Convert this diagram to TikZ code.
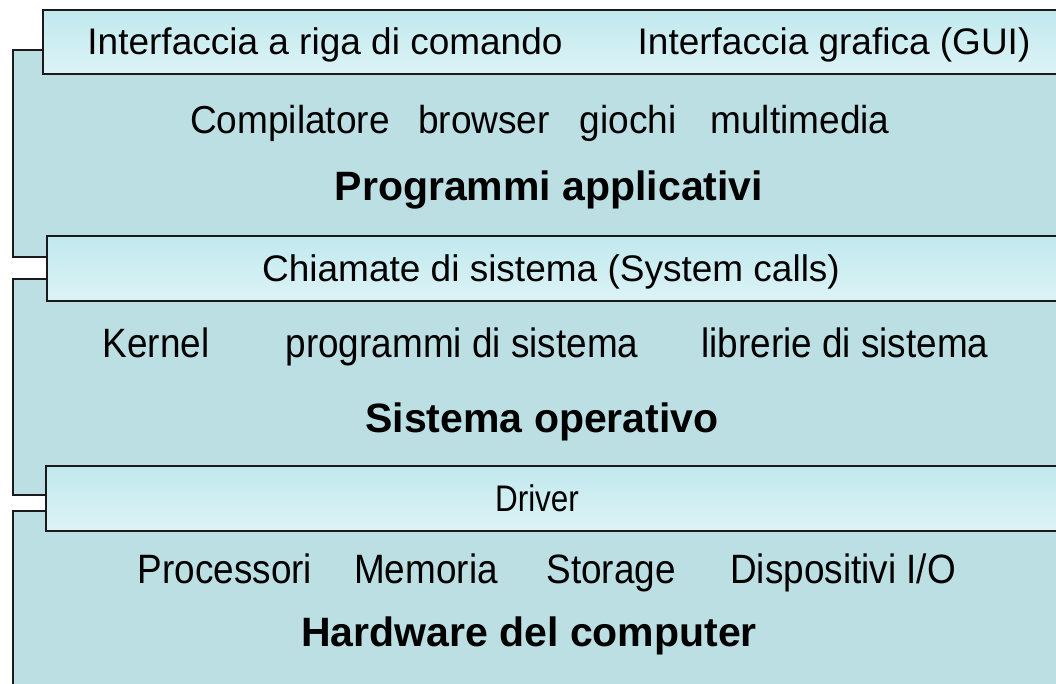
\documentclass[tikz,border=0pt]{standalone}
\usepackage{fontspec}
\setmainfont{Liberation Sans}
\usepackage{tikz}
\usetikzlibrary{positioning}
\definecolor{layerfill}{HTML}{BBDFE3}
\definecolor{bartop}{HTML}{C0E9EE}
\definecolor{barbot}{HTML}{DDF3F6}
\definecolor{edge}{HTML}{1A1A1A}

\begin{document}
\begin{tikzpicture}[x=1pt,y=-1pt,
  layer/.style={fill=layerfill,draw=edge,line width=2pt},
  bar/.style={top color=bartop,bottom color=barbot,draw=edge,line width=2pt},
  lbl/.style={anchor=base,inner sep=0pt,font=\fontsize{37}{40}\selectfont},
  narrow/.style={lbl,xscale=0.9,font=\fontsize{41}{44}\selectfont},
  title/.style={anchor=base,inner sep=0pt,font=\fontsize{41}{44}\selectfont\bfseries}]
\useasboundingbox (0,0) rectangle (1056,684);
\clip (0,0) rectangle (1056,684);
% layers
\draw[layer] (13,50) rectangle (1070,257);
\draw[layer] (13,279) rectangle (1070,495);
\draw[layer] (13,511) rectangle (1070,700);
% bars
\draw[bar] (43,10) rectangle (1070,74);
\draw[bar] (47,236) rectangle (1070,301);
\draw[bar] (46,466) rectangle (1070,531);
% programmi applicativi
\node[lbl] (cli) at (325,55) {Interfaccia a riga di comando};
\node[lbl] (gui) at (834,55) {Interfaccia grafica (GUI)};
\node[lbl,xscale=0.95,font=\fontsize{39}{42}\selectfont] (comp) at (290,134) {Compilatore};
\node[lbl,xscale=0.95,font=\fontsize{39}{42}\selectfont] (brow) at (484,134) {browser};
\node[lbl,xscale=0.95,font=\fontsize{39}{42}\selectfont] (gioc) at (628,134) {giochi};
\node[lbl,xscale=0.95,font=\fontsize{39}{42}\selectfont] (mult) at (800,134) {multimedia};
\node[title] (app) at (549,201) {Programmi applicativi};
% sistema operativo
\node[lbl] (call) at (551,281) {Chiamate di sistema (System calls)};
\node[narrow] (kern) at (156,357) {Kernel};
\node[narrow] (prog) at (462,357) {programmi di sistema};
\node[narrow] (libr) at (845,357) {librerie di sistema};
\node[title] (os) at (542,432) {Sistema operativo};
% hardware
\node[lbl,xscale=0.85] (drv) at (537,511) {Driver};
\node[narrow] (cpu) at (225,583) {Processori};
\node[narrow] (mem) at (426,583) {Memoria};
\node[narrow] (sto) at (611,583) {Storage};
\node[narrow] (io) at (843,583) {Dispositivi I/O};
\node[title] (hw) at (529,646) {Hardware del computer};
\end{tikzpicture}
\end{document}
